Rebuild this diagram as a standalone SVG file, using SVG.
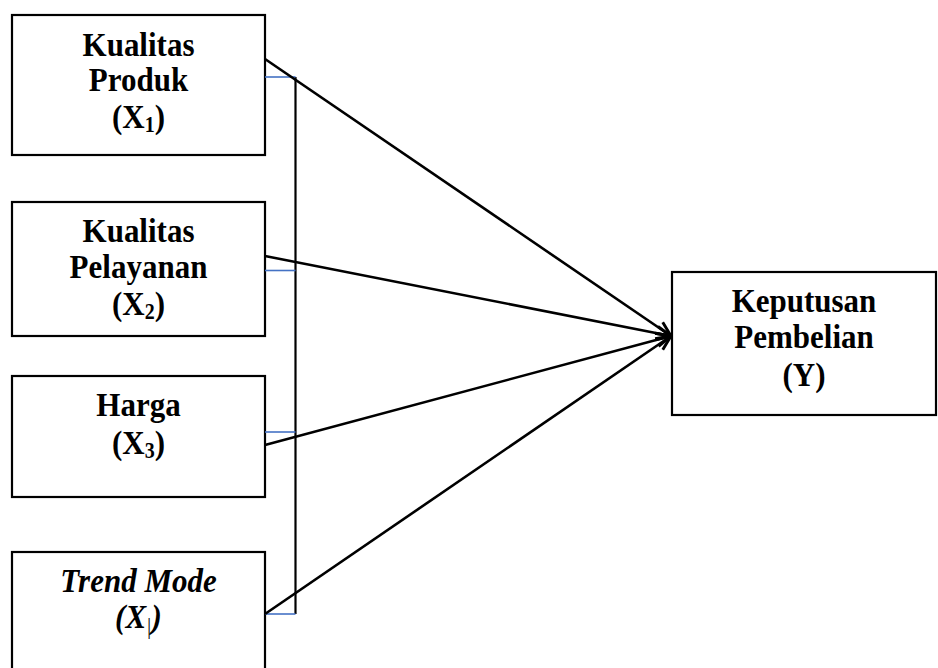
<svg xmlns="http://www.w3.org/2000/svg" width="938" height="668" viewBox="0 0 938 668">
<style>
.box{fill:#fff;stroke:#000;stroke-width:2.2}
.t{font-family:"Liberation Serif","Times New Roman",serif;font-size:31px;font-weight:bold;text-anchor:middle;fill:#000}
.i{font-style:italic}
.sub{font-size:20px}
.arr{stroke:#000;stroke-width:2.6;fill:none;marker-end:url(#ah)}
.bl{stroke:#4472C4;stroke-width:1.6;fill:none}
.vl{stroke:#000;stroke-width:2.2;fill:none}
</style>
<defs>
<marker id="ah" markerUnits="userSpaceOnUse" markerWidth="18" markerHeight="18" refX="14" refY="7" orient="auto" viewBox="0 0 16 14">
<path d="M1,1 L14,7 L1,13" fill="none" stroke="#000" stroke-width="2.6"/>
</marker>
</defs>
<g id="node-x1">
<rect class="box" x="12" y="15" width="253" height="140"/>
<text class="t" transform="translate(138.5,56) scale(1,1.12)">Kualitas</text>
<text class="t" transform="translate(138.5,91) scale(1,1.12)">Produk</text>
<text class="t" transform="translate(138.5,128) scale(1,1.12)">(X<tspan class="sub" dy="4">1</tspan><tspan dy="-4">)</tspan></text>
</g>
<g id="node-x2">
<rect class="box" x="12" y="202" width="253" height="134"/>
<text class="t" transform="translate(138.5,242) scale(1,1.12)">Kualitas</text>
<text class="t" transform="translate(138.5,278) scale(1,1.12)">Pelayanan</text>
<text class="t" transform="translate(138.5,315) scale(1,1.12)">(X<tspan class="sub" dy="4">2</tspan><tspan dy="-4">)</tspan></text>
</g>
<g id="node-x3">
<rect class="box" x="12" y="376" width="253" height="121"/>
<text class="t" transform="translate(138.5,416) scale(1,1.12)">Harga</text>
<text class="t" transform="translate(138.5,454) scale(1,1.12)">(X<tspan class="sub" dy="4">3</tspan><tspan dy="-4">)</tspan></text>
</g>
<g id="node-x4">
<rect class="box" x="12" y="552" width="253" height="125"/>
<text class="t i" transform="translate(138.5,592) scale(1,1.12)">Trend Mode</text>
<text class="t i" transform="translate(138.5,628) scale(1,1.12)">(X<tspan class="sub" dy="5" font-weight="normal">|</tspan><tspan dy="-5">)</tspan></text>
</g>
<g id="node-y">
<rect class="box" x="672" y="272" width="264" height="143"/>
<text class="t" transform="translate(804,312) scale(1,1.12)">Keputusan</text>
<text class="t" transform="translate(804,348) scale(1,1.12)">Pembelian</text>
<text class="t" transform="translate(804,386) scale(1,1.12)">(Y)</text>
</g>
<g id="connectors">
<line class="vl" x1="295.5" y1="77" x2="295.5" y2="614"/>
<line class="bl" x1="265" y1="77" x2="295.5" y2="77"/>
<line class="bl" x1="265" y1="270.5" x2="295.5" y2="270.5"/>
<line class="bl" x1="265" y1="432" x2="295.5" y2="432"/>
<line class="bl" x1="265" y1="614" x2="295.5" y2="614"/>
<line class="arr" x1="265" y1="59" x2="671" y2="336"/>
<line class="arr" x1="265" y1="256" x2="671" y2="336"/>
<line class="arr" x1="265" y1="445" x2="671" y2="336"/>
<line class="arr" x1="265" y1="614" x2="671" y2="336"/>
</g>
</svg>
